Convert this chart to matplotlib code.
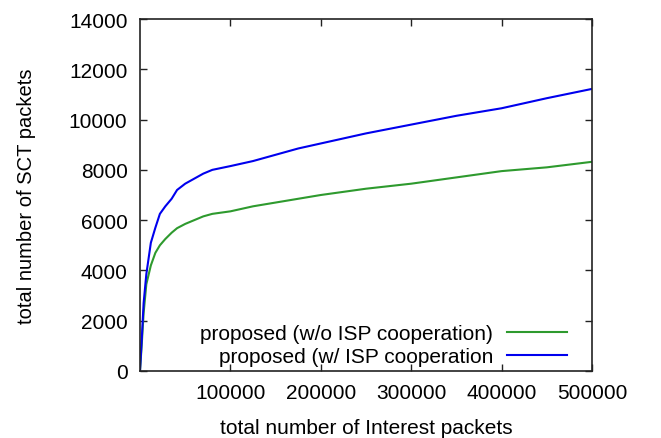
import matplotlib
matplotlib.use("Agg")
import matplotlib.pyplot as plt

plt.rcParams['font.family'] = ['Liberation Sans', 'DejaVu Sans']

interest = [0, 2000, 4000, 7000, 12000, 17000, 22000, 28000, 35000, 41000, 50000,
            60000, 70000, 80000, 100000, 125000, 150000, 175000, 200000, 250000,
            300000, 350000, 400000, 450000, 500000]
sct_coop = [0, 1300, 2700, 3850, 5100, 5700, 6250, 6550, 6850, 7200, 7450,
            7650, 7850, 8000, 8150, 8350, 8600, 8850, 9050, 9450,
            9800, 10150, 10450, 10850, 11220]
sct_nocoop = [0, 1100, 2300, 3450, 4200, 4700, 5000, 5250, 5500, 5680, 5850,
              6000, 6150, 6250, 6350, 6550, 6700, 6850, 7000, 7250,
              7450, 7700, 7950, 8100, 8320]

label_nocoop = "proposed (w/o ISP cooperation)"
label_coop = "proposed (w/ ISP cooperation"
xticks = [100000, 200000, 300000, 400000, 500000]
yticks = [0, 2000, 4000, 6000, 8000, 10000, 12000, 14000]

FS = 15

fig = plt.figure(figsize=(6.61, 4.39), dpi=100)
ax = fig.add_axes([140/661, 67/439, 452/661, 352/439])

ax.plot(interest, sct_nocoop, color='#2e9a2e', lw=1.5, label=label_nocoop)
ax.plot(interest, sct_coop, color='#0000ee', lw=1.5, label=label_coop)

ax.set_xlim(0, 500000)
ax.set_ylim(0, 14000)
ax.set_xticks(xticks)
ax.set_yticks(yticks)
ax.set_xticklabels([str(v) for v in xticks])
ax.set_yticklabels([str(v) for v in yticks])
ax.tick_params(direction='in', length=5, width=1, top=True, right=True,
               labelsize=FS, colors='#222222', labelcolor='black')
ax.tick_params(axis='x', pad=9)
ax.tick_params(axis='y', pad=9)
for s in ax.spines.values():
    s.set_linewidth(1.2)
    s.set_color('#222222')

ax.set_xlabel("total number of Interest packets", fontsize=FS, labelpad=11)
ax.set_ylabel("total number of SCT packets", fontsize=14.5, labelpad=24)

leg = ax.legend(loc='lower right', bbox_to_anchor=(0.972, -0.022), frameon=False,
                markerfirst=False, fontsize=FS, handlelength=2.85,
                labelspacing=0.18, handletextpad=0.7, borderaxespad=0.2)

fig.savefig("out.png", dpi=100)
